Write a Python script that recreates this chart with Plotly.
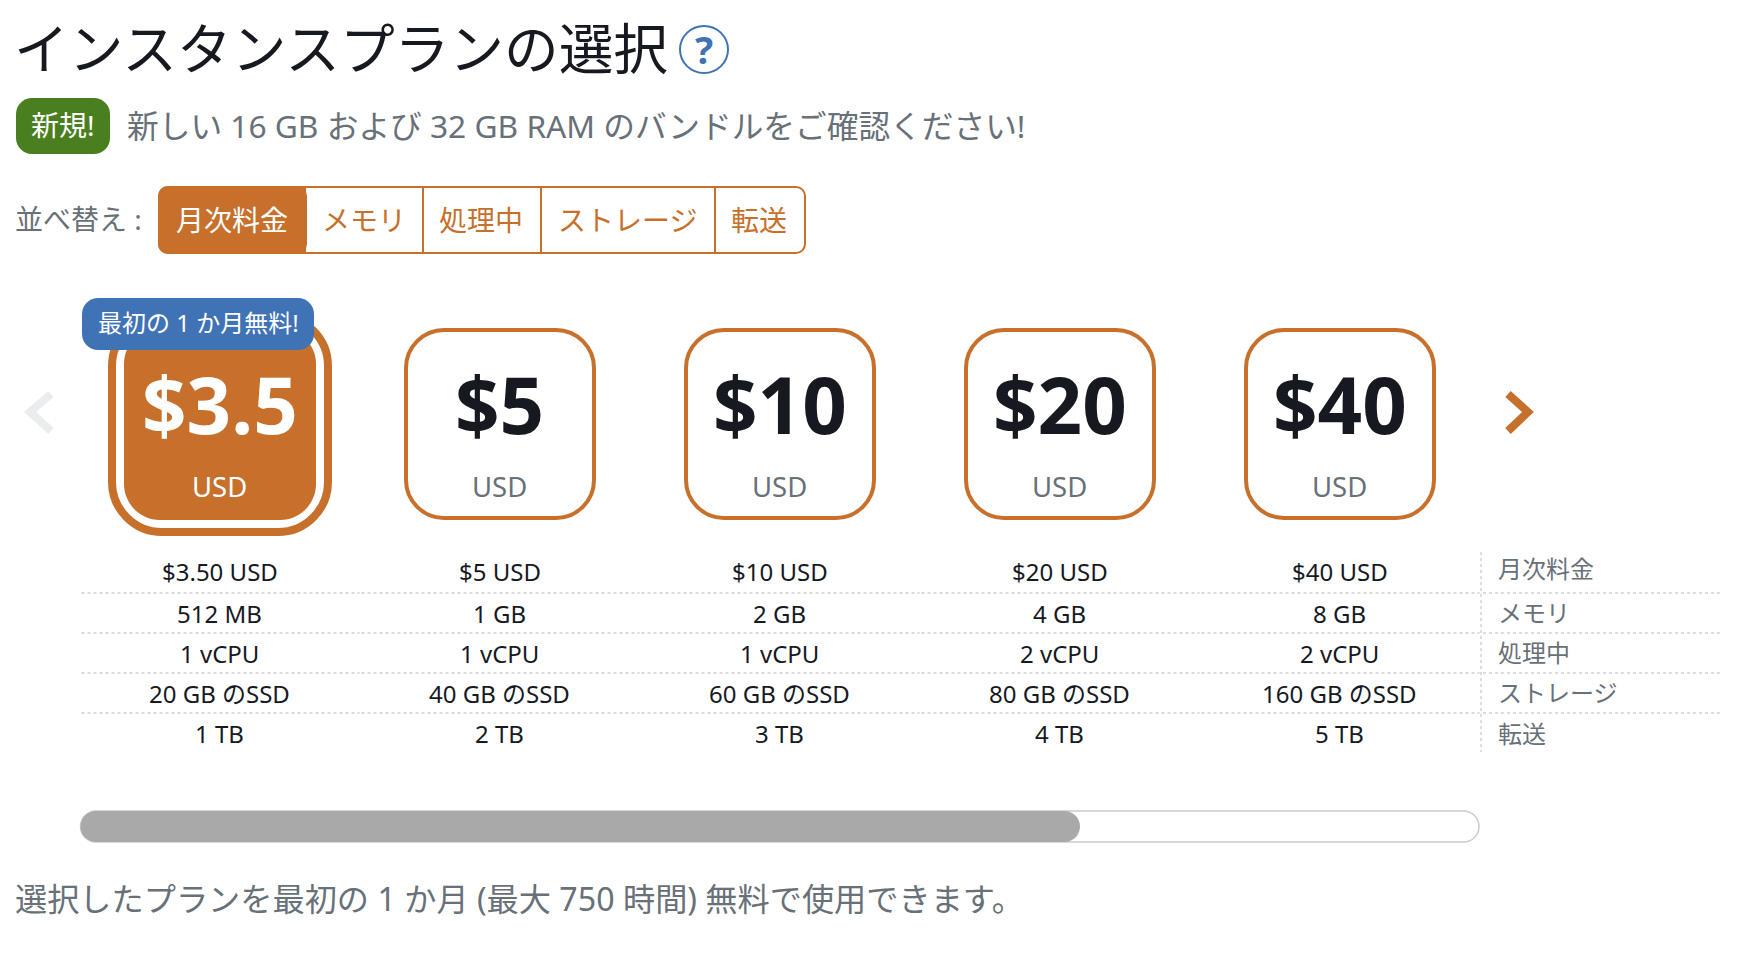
import plotly.graph_objects as go

# ---- content ----
price_big = ["$3.5", "$5", "$10", "$20", "$40"]
monthly = ["$3.50 USD", "$5 USD", "$10 USD", "$20 USD", "$40 USD"]
memory = ["512 MB", "1 GB", "2 GB", "4 GB", "8 GB"]
cpu = ["1 vCPU", "1 vCPU", "1 vCPU", "2 vCPU", "2 vCPU"]
storage = ["20 GB のSSD", "40 GB のSSD", "60 GB のSSD", "80 GB のSSD", "160 GB のSSD"]
transfer = ["1 TB", "2 TB", "3 TB", "4 TB", "5 TB"]
row_labels = ["月次料金", "メモリ", "処理中", "ストレージ", "転送"]
sort_tabs = ["月次料金", "メモリ", "処理中", "ストレージ", "転送"]
currency = "USD"
title_text = "インスタンスプランの選択"
new_badge = "新規!"
new_text = "新しい 16 GB および 32 GB RAM のバンドルをご確認ください!"
sort_label = "並べ替え :"
free_tag = "最初の 1 か月無料!"
footer_text = "選択したプランを最初の 1 か月 (最大 750 時間) 無料で使用できます。"

# ---- layout constants ----
W, H = 1754, 966
ORANGE, BLUE, GREEN = "#c7702c", "#3f73b6", "#4a7f1f"
INK, GREY, DOT = "#16191f", "#687078", "#d9dddd"
FONT = "Noto Sans, Noto Sans CJK JP, sans-serif"
card_cx = [219.5 + 280 * i for i in range(5)]
row_y = [571, 613, 653, 693, 733]
label_y = [568.5, 612.5, 652.5, 692.5, 733]
sep_y = [593, 633, 673, 713]
tab_edges = [159, 306, 423, 541, 715, 805]


def rrect(x0, y0, x1, y1, r):
    k = r * 0.45
    return (f"M{x0+r},{y0} L{x1-r},{y0} C{x1-k},{y0} {x1},{y0+k} {x1},{y0+r} "
            f"L{x1},{y1-r} C{x1},{y1-k} {x1-k},{y1} {x1-r},{y1} "
            f"L{x0+r},{y1} C{x0+k},{y1} {x0},{y1-k} {x0},{y1-r} "
            f"L{x0},{y0+r} C{x0},{y0+k} {x0+k},{y0} {x0+r},{y0} Z")


shapes, notes = [], []


def box(x0, y0, x1, y1, r, fill="rgba(0,0,0,0)", line=None, lw=0):
    shapes.append(dict(type="path", path=rrect(x0, y0, x1, y1, r), fillcolor=fill,
                       line=dict(color=line or "rgba(0,0,0,0)", width=lw)))


def seg(x0, y0, x1, y1, color, w, dash="solid"):
    shapes.append(dict(type="line", x0=x0, y0=y0, x1=x1, y1=y1,
                       line=dict(color=color, width=w, dash=dash)))


def text(x, y, s, size, color, anchor="center", bold=False):
    notes.append(dict(x=x, y=y, text=f"<b>{s}</b>" if bold else s, showarrow=False,
                      xanchor=anchor, yanchor="middle",
                      font=dict(family=FONT, size=size, color=color)))


# heading
text(12, 48, title_text, 54.7, INK, "left")
shapes.append(dict(type="circle", x0=680, y0=26, x1=728, y1=73, fillcolor="white",
                   line=dict(color=BLUE, width=2)))
text(704, 49, "?", 38, BLUE, bold=True)

# badge line
box(16, 98, 110, 154, 16, fill=GREEN)
text(63, 125, new_badge, 28, "white")
text(125, 125, new_text, 31.7, GREY, "left")

# sort tabs
text(13, 219, sort_label, 28, GREY, "left")
box(tab_edges[0], 187, tab_edges[-1], 253, 9, fill="white", line=ORANGE, lw=2)
box(tab_edges[0], 187, tab_edges[1], 253, 9, fill=ORANGE, line=ORANGE, lw=2)
shapes.append(dict(type="rect", x0=tab_edges[1] - 12, y0=187, x1=tab_edges[1], y1=253,
                   fillcolor=ORANGE, line=dict(width=0)))
for e in tab_edges[2:-1]:
    seg(e, 187, e, 253, ORANGE, 2)
for i, tab in enumerate(sort_tabs):
    text((tab_edges[i] + tab_edges[i + 1]) / 2 - 1, 219.5, tab, 28, "white" if i == 0 else ORANGE)

# plan cards
for i, cx in enumerate(card_cx):
    c = cx + 0.5
    if i == 0:
        box(c - 108, 316, c + 108, 532, 50, fill="white", line=ORANGE, lw=8)
        box(c - 96, 328, c + 96, 520, 36, fill=ORANGE)
    else:
        box(c - 94, 330, c + 94, 518, 38, fill="white", line=ORANGE, lw=4)
    text(cx, 403.5, price_big[i], 78, "white" if i == 0 else INK, bold=True)
    text(cx - 0.5, 486, currency, 27.5, "white" if i == 0 else GREY)

# free-month tag
box(82, 298, 314, 350, 16, fill=BLUE)
text(198, 322, free_tag, 24, "white")

# carousel chevrons
for pts, col in [("M51,394 L30,412 L51,431", "#eaeded"), ("M1508,394 L1528,412 L1508,431", ORANGE)]:
    shapes.append(dict(type="path", path=pts, line=dict(color=col, width=8)))

# spec table
for col, values in enumerate([monthly, memory, cpu, storage, transfer]):
    for i, cx in enumerate(card_cx):
        text(cx, row_y[col], values[i], 24, INK)
    text(1496, label_y[col], row_labels[col], 24, GREY, "left")
for y in sep_y:
    for cx in card_cx:
        seg(cx - 138, y, cx + 140, y, DOT, 2, "dot")
    seg(1483, y, 1720, y, DOT, 2, "dot")
seg(1481, 552, 1481, 752, DOT, 2, "dot")

# scrollbar
box(80.5, 811, 1479, 842, 15.5, fill="white", line="#cccccc", lw=1.5)
box(80.5, 811, 1080, 842, 15.5, fill="#a9a9a9")

# footer
text(13, 898, footer_text, 32.2, GREY, "left")

fig = go.Figure()
fig.update_layout(
    width=W, height=H, autosize=False, margin=dict(l=0, r=0, t=0, b=0),
    paper_bgcolor="white", plot_bgcolor="white", showlegend=False,
    xaxis=dict(range=[0, W], visible=False, fixedrange=True),
    yaxis=dict(range=[H, 0], visible=False, fixedrange=True),
    shapes=shapes, annotations=notes,
)
fig.write_html("out.html", config=dict(displayModeBar=False),
               post_script="document.body.style.margin='0';document.body.style.overflow='hidden';")
